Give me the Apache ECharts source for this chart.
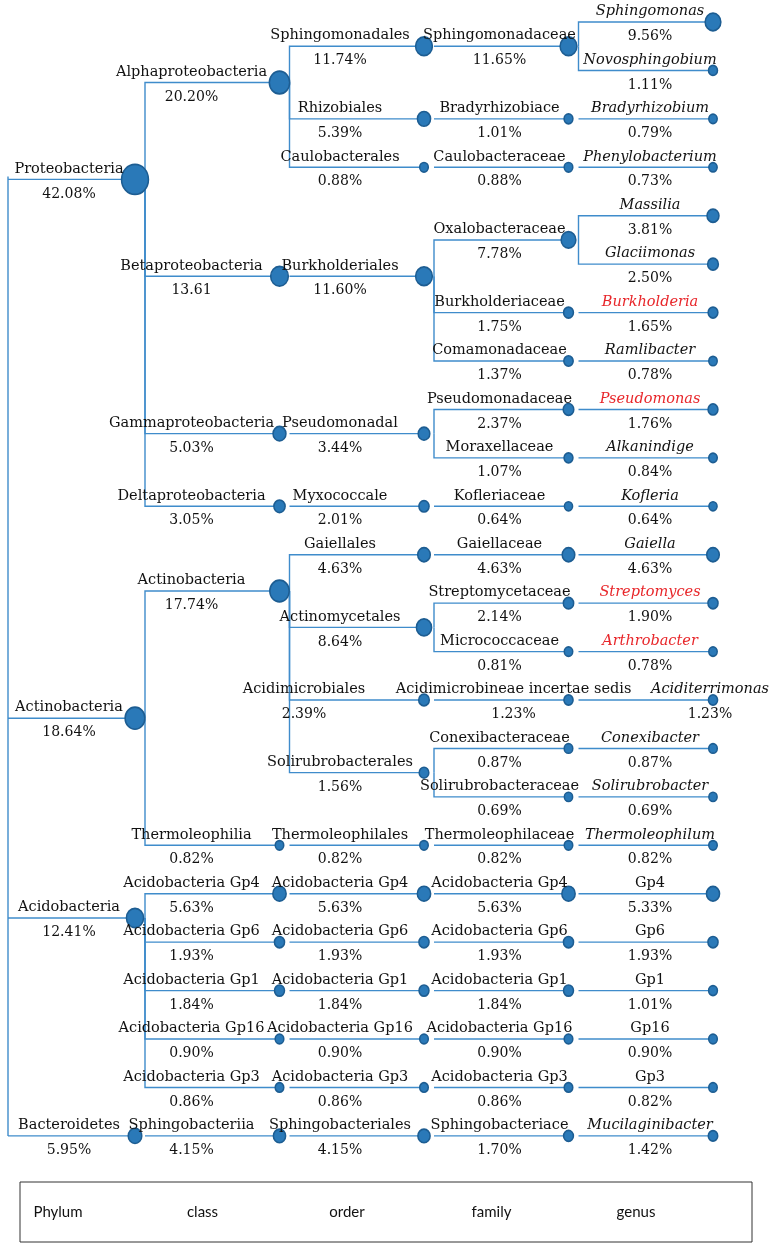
<!DOCTYPE html>
<html><head><meta charset="utf-8">
<script src="https://cdn.jsdelivr.net/npm/echarts/dist/echarts.min.js"></script>
<style>html,body{margin:0;padding:0;background:#fff}#c{width:772px;height:1258px}</style>
</head><body><div id="c"></div>
<script>
// ---------- data ----------
const levelNames = ['Phylum', 'class', 'order', 'family', 'genus'];

const phyla = ['Proteobacteria', 'Actinobacteria', 'Acidobacteria', 'Bacteroidetes'];
const phylumPct = [42.08, 18.64, 12.41, 5.95];

const classes = ['Alphaproteobacteria', 'Betaproteobacteria', 'Gammaproteobacteria', 'Deltaproteobacteria',
  'Actinobacteria', 'Thermoleophilia',
  'Acidobacteria Gp4', 'Acidobacteria Gp6', 'Acidobacteria Gp1', 'Acidobacteria Gp16', 'Acidobacteria Gp3',
  'Sphingobacteriia'];
const classPct = [20.20, 13.61, 5.03, 3.05, 17.74, 0.82, 5.63, 1.93, 1.84, 0.90, 0.86, 4.15];
const classParent = [0, 0, 0, 0, 1, 1, 2, 2, 2, 2, 2, 3];

const orders = ['Sphingomonadales', 'Rhizobiales', 'Caulobacterales', 'Burkholderiales', 'Pseudomonadal', 'Myxococcale',
  'Gaiellales', 'Actinomycetales', 'Acidimicrobiales', 'Solirubrobacterales', 'Thermoleophilales',
  'Acidobacteria Gp4', 'Acidobacteria Gp6', 'Acidobacteria Gp1', 'Acidobacteria Gp16', 'Acidobacteria Gp3',
  'Sphingobacteriales'];
const orderPct = [11.74, 5.39, 0.88, 11.60, 3.44, 2.01, 4.63, 8.64, 2.39, 1.56, 0.82, 5.63, 1.93, 1.84, 0.90, 0.86, 4.15];
const orderParent = [0, 0, 0, 1, 2, 3, 4, 4, 4, 4, 5, 6, 7, 8, 9, 10, 11];

const families = ['Sphingomonadaceae', 'Bradyrhizobiace', 'Caulobacteraceae', 'Oxalobacteraceae', 'Burkholderiaceae',
  'Comamonadaceae', 'Pseudomonadaceae', 'Moraxellaceae', 'Kofleriaceae', 'Gaiellaceae', 'Streptomycetaceae',
  'Micrococcaceae', 'Acidimicrobineae incertae sedis', 'Conexibacteraceae', 'Solirubrobacteraceae',
  'Thermoleophilaceae', 'Acidobacteria Gp4', 'Acidobacteria Gp6', 'Acidobacteria Gp1', 'Acidobacteria Gp16',
  'Acidobacteria Gp3', 'Sphingobacteriace'];
const familyPct = [11.65, 1.01, 0.88, 7.78, 1.75, 1.37, 2.37, 1.07, 0.64, 4.63, 2.14, 0.81, 1.23, 0.87, 0.69, 0.82,
  5.63, 1.93, 1.84, 0.90, 0.86, 1.70];
const familyParent = [0, 1, 2, 3, 3, 3, 4, 4, 5, 6, 7, 7, 8, 9, 9, 10, 11, 12, 13, 14, 15, 16];

const genera = ['Sphingomonas', 'Novosphingobium', 'Bradyrhizobium', 'Phenylobacterium', 'Massilia', 'Glaciimonas',
  'Burkholderia', 'Ramlibacter', 'Pseudomonas', 'Alkanindige', 'Kofleria', 'Gaiella', 'Streptomyces', 'Arthrobacter',
  'Aciditerrimonas', 'Conexibacter', 'Solirubrobacter', 'Thermoleophilum', 'Gp4', 'Gp6', 'Gp1', 'Gp16', 'Gp3',
  'Mucilaginibacter'];
const genusPct = [9.56, 1.11, 0.79, 0.73, 3.81, 2.50, 1.65, 0.78, 1.76, 0.84, 0.64, 4.63, 1.90, 0.78, 1.23, 0.87, 0.69,
  0.82, 5.33, 1.93, 1.01, 0.90, 0.82, 1.42];
const genusParent = [0, 0, 1, 2, 3, 3, 4, 5, 6, 7, 8, 9, 10, 11, 12, 13, 14, 15, 16, 17, 18, 19, 20, 21];

const redGenera = ['Burkholderia', 'Pseudomonas', 'Streptomyces', 'Arthrobacter'];
const uprightGenera = ['Gp4', 'Gp6', 'Gp1', 'Gp16', 'Gp3'];
const noPercentSign = ['Betaproteobacteria'];

// ---------- styling ----------
const LABEL_DX = [-66, -88, -84, -69, -63];           // label centre relative to node, per level (px)
const LABEL_NUDGE = { 'Acidimicrobiales': -36, 'Acidimicrobineae incertae sedis': 14, 'Aciditerrimonas': 60 };

// ---------- layout from structure ----------
const levels = [
  { names: phyla, pct: phylumPct, parent: null },
  { names: classes, pct: classPct, parent: classParent },
  { names: orders, pct: orderPct, parent: orderParent },
  { names: families, pct: familyPct, parent: familyParent },
  { names: genera, pct: genusPct, parent: genusParent }
];
// leaves take successive rows; a parent sits level with the mean of its first two children
const ys = levels.map(l => new Array(l.names.length).fill(0));
ys[4] = genera.map((_, i) => i);
for (let k = 3; k >= 0; k--) {
  levels[k].names.forEach((_, i) => {
    const kids = [];
    levels[k + 1].parent.forEach((p, j) => { if (p === i) kids.push(ys[k + 1][j]); });
    const two = kids.slice(0, 2);
    ys[k][i] = two.reduce((a, b) => a + b, 0) / two.length;
  });
}

const PX_PER_LEVEL = 144.5, PX_PER_ROW = 48.43;
const xMin = -135 / PX_PER_LEVEL, xMax = xMin + 772 / PX_PER_LEVEL;
const yMin = -22 / PX_PER_ROW, yMax = yMin + 1258 / PX_PER_ROW;
const V_OFF = 10 / PX_PER_LEVEL;
const ROOT_X = -127 / PX_PER_LEVEL;

const edgeData = [];
const nodeData = [];
levels.forEach((l, k) => {
  l.names.forEach((name, i) => {
    const y = ys[k][i];
    if (k === 0) {
      edgeData.push({ coords: [[ROOT_X, y], [0, y]] });
    } else {
      const p = l.parent[i];
      const px = k - 1 + V_OFF, py = ys[k - 1][p];
      edgeData.push({ coords: [[px, py], [px, y], [k, y]] });
    }
    const v = l.pct[i];
    const d = 5.5 + 3.3 * Math.sqrt(v);
    const isGenus = k === 4;
    const nudgeKey = (k >= 2) ? name : null;
    nodeData.push({
      value: [k, y],
      name,
      pctText: v.toFixed(2) + (noPercentSign.includes(name) ? '' : '%'),
      symbolSize: [d, d * 1.12],
      dx: LABEL_DX[k] + ((nudgeKey && LABEL_NUDGE[nudgeKey]) || 0),
      italic: isGenus && !uprightGenera.includes(name),
      red: isGenus && redGenera.includes(name)
    });
  });
});
edgeData.push({ coords: [[ROOT_X, Math.min(...ys[0]) - 0.06], [ROOT_X, Math.max(...ys[0])]] });

const chart = echarts.init(document.getElementById('c'), null, { renderer: 'canvas' });
const serif = 'DejaVu Serif';
chart.setOption({
  animation: false,
  backgroundColor: '#fff',
  grid: { left: 0, right: 0, top: 0, bottom: 0 },
  xAxis: { type: 'value', min: xMin, max: xMax, show: false },
  yAxis: { type: 'value', min: yMin, max: yMax, inverse: true, show: false },
  series: [
    {
      type: 'lines', coordinateSystem: 'cartesian2d', polyline: true, silent: true,
      lineStyle: { color: '#3f8ccb', width: 1.4, opacity: 1 },
      data: edgeData, z: 1
    },
    {
      type: 'scatter', clip: false, z: 3,
      itemStyle: { color: '#2a79b8', borderColor: '#1d5d92', borderWidth: 1.6, opacity: 1 },
      data: nodeData.map(n => ({
        value: n.value, name: n.name, symbolSize: n.symbolSize,
        label: {
          show: true, position: 'inside', offset: [n.dx, 2], opacity: 1,
          formatter: () => '{n|' + n.name + '}\n{p|' + n.pctText + '}',
          rich: {
            n: { fontFamily: serif, fontSize: 14.5, lineHeight: 25, color: n.red ? '#e8262a' : '#111',
                 fontStyle: n.italic ? 'italic' : 'normal' },
            p: { fontFamily: serif, fontSize: 14, lineHeight: 25, color: '#111' }
          }
        }
      }))
    }
  ]
});

const boxTexts = levelNames.map((t, k) => ({
  type: 'text',
  x: chart.convertToPixel({ gridIndex: 0 }, [k, 0])[0] - 77,
  y: 1212,
  style: { text: t, fontFamily: 'Lato', fontSize: 15, fill: '#111', align: 'center', verticalAlign: 'middle' }
}));
chart.setOption({
  graphic: [
    { type: 'rect', shape: { x: 20, y: 1182, width: 732, height: 60 },
      style: { fill: 'none', stroke: '#333', lineWidth: 1 } },
    ...boxTexts
  ]
});
</script></body></html>
